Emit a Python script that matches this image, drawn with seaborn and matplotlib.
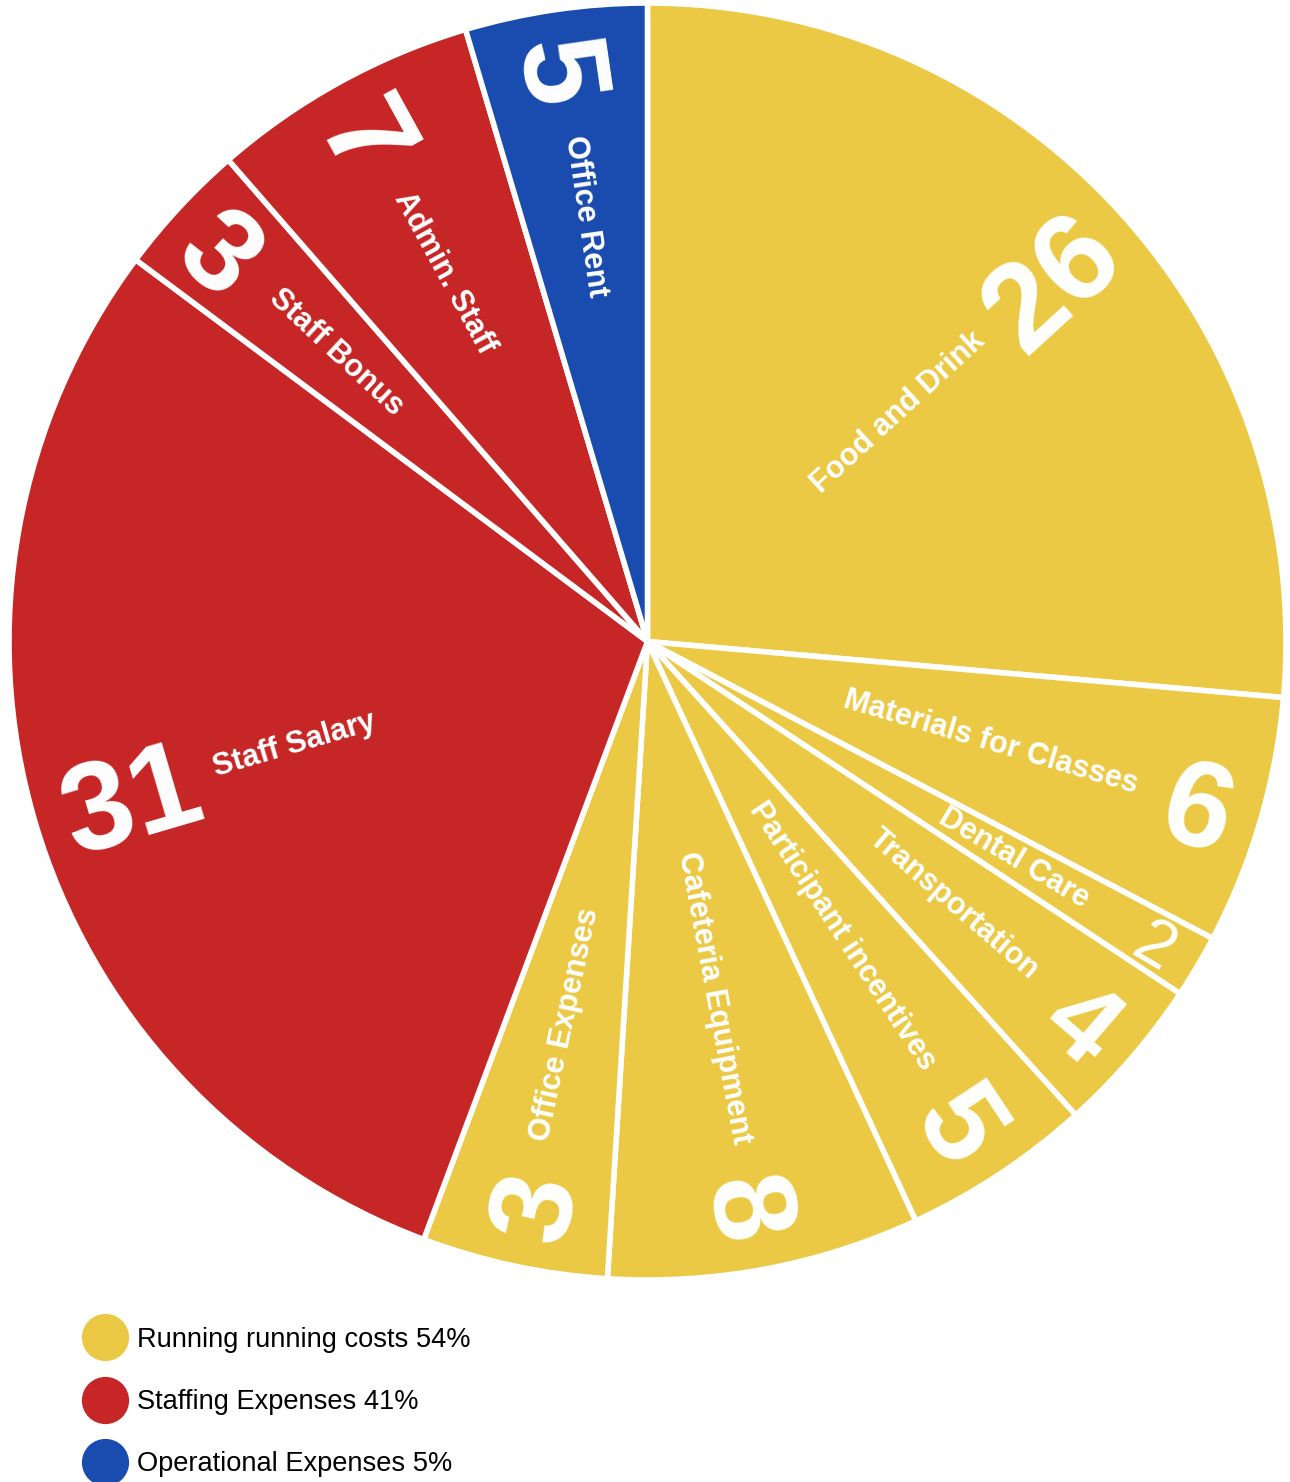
import numpy as np
import pandas as pd
import matplotlib
matplotlib.use("Agg")
import matplotlib.pyplot as plt
from matplotlib.lines import Line2D
import seaborn as sns

# ---------------- data ----------------
categories = ["Food and Drink", "Materials for Classes", "Dental Care", "Transportation",
              "Participant incentives", "Cafeteria Equipment", "Office Expenses",
              "Staff Salary", "Staff Bonus", "Admin. Staff", "Office Rent"]
# slice sizes as drawn (share of the circle, %)
values = [26.4, 6.3, 1.6, 4.0, 4.8, 7.9, 4.7, 29.5, 3.4, 6.8, 4.6]
# numbers printed on the slices
value_labels = ["26", "6", "2", "4", "5", "8", "3", "31", "3", "7", "5"]
groups = ["Running", "Running", "Running", "Running", "Running", "Running", "Running",
          "Staffing", "Staffing", "Staffing", "Operational"]
group_keys = ["Running", "Staffing", "Operational"]
group_labels = ["Running running costs 54%", "Staffing Expenses 41%", "Operational Expenses 5%"]

# ---------------- style ----------------
group_colors = {"Running": "#ECC945", "Staffing": "#C62726", "Operational": "#1A4CB0"}
number_sizes = [90, 88, 48, 80, 86, 86, 86, 90, 86, 90, 88]
number_weights = ["bold", "bold", "normal", "bold", "bold", "bold", "bold",
                  "bold", "bold", "bold", "bold"]
label_size = 22

sns.set_theme(style="white")
plt.rcParams["font.family"] = ["Liberation Sans", "DejaVu Sans"]

df = pd.DataFrame({"category": categories, "value": values,
                   "text": value_labels, "group": groups})
palette = sns.color_palette([group_colors[g] for g in group_keys])
color_map = dict(zip(group_keys, palette))

W, H = 1290, 1482
DPI = 100
fig = plt.figure(figsize=(W / DPI, H / DPI), dpi=DPI)
R_PX = 638.5
cx, cy = 647.5, 641.5
ax = fig.add_axes([(cx - R_PX) / W, (H - cy - R_PX) / H, 2 * R_PX / W, 2 * R_PX / H])

wedges, _ = ax.pie(df["value"], colors=[color_map[g] for g in df["group"]],
                   startangle=90, counterclock=False, radius=1,
                   wedgeprops=dict(edgecolor="white", linewidth=4.0, clip_on=False))
ax.set_xlim(-1, 1)
ax.set_ylim(-1, 1)
ax.set_aspect("equal")
ax.axis("off")

renderer = fig.canvas.get_renderer()
px_per_unit = R_PX
pt2px = DPI / 72.0


def text_len(s, **kw):
    t = fig.text(0, 0, s, **kw)
    w = t.get_window_extent(renderer=renderer).width
    t.remove()
    return w / px_per_unit


r_out = 0.955
gap = 0.03
r_label_max = 0.80
for w, cat, num, fs, fw in zip(wedges, df["category"], df["text"], number_sizes, number_weights):
    theta = 0.5 * (w.theta1 + w.theta2)
    th = np.deg2rad(theta)
    right = np.cos(th) >= 0
    rot = theta if right else theta - 180
    ha = "right" if right else "left"
    up = np.deg2rad(rot + 90)
    # centre the digit ink (cap height ~0.716 em) on the slice bisector
    off = 0.358 * fs * pt2px / px_per_unit
    ax.text(r_out * np.cos(th) - off * np.cos(up), r_out * np.sin(th) - off * np.sin(up),
            num, rotation=rot, rotation_mode="anchor", ha=ha, va="baseline",
            color="white", fontsize=fs, fontweight=fw)
    nlen = text_len(num, fontsize=fs, fontweight=fw)
    r_lab = min(r_label_max, r_out - nlen - gap)
    ax.text(r_lab * np.cos(th), r_lab * np.sin(th), cat, rotation=rot,
            rotation_mode="anchor", ha=ha, va="center", color="white",
            fontsize=label_size, fontweight="bold")

handles = [Line2D([], [], marker="o", linestyle="", markersize=34,
                  markerfacecolor=color_map[g], markeredgecolor="none") for g in group_keys]
fig.legend(handles, group_labels, loc="upper left", bbox_to_anchor=(91.5 / W, (H - 1327) / H),
           frameon=False, fontsize=19.6, handlelength=1.0, handletextpad=0.68,
           labelspacing=1.33, borderpad=0, borderaxespad=0, labelcolor="black")

fig.savefig("out.png", dpi=DPI, facecolor="white")
